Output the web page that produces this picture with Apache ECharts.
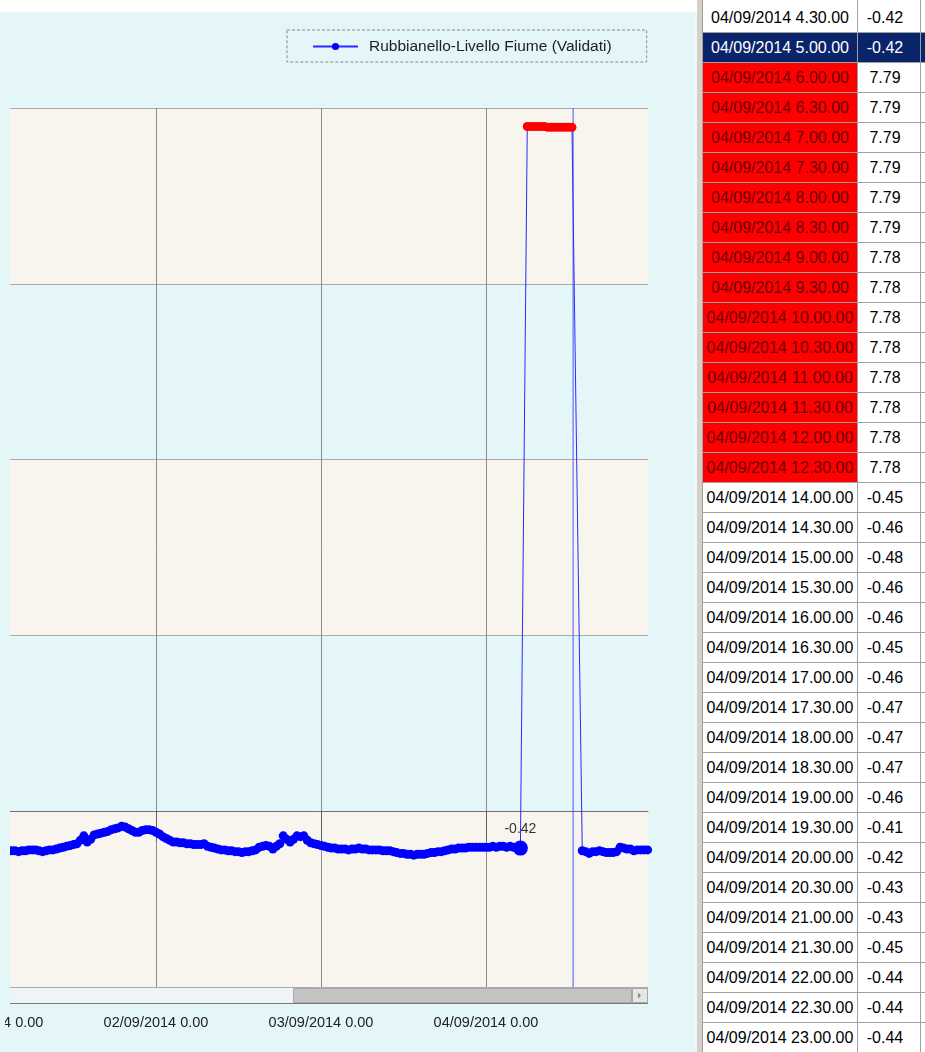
<!DOCTYPE html>
<html>
<head>
<meta charset="utf-8">
<script src="https://cdn.jsdelivr.net/npm/echarts@6/dist/echarts.min.js"></script>
<style>
  html, body { margin: 0; padding: 0; width: 925px; height: 1052px; overflow: hidden; background: #fff; }
  #panel { position: absolute; left: 0; top: 12px; width: 695px; height: 1040px; background: #e4f6f7; border-right: 2px solid #f2f6f6; }
  #chart { position: absolute; left: -80px; top: 0; width: 777px; height: 1052px; }
  #grid { position: absolute; left: 697px; top: 0; width: 228px; height: 1052px; background: #fff; overflow: hidden;
          font-family: "Liberation Sans", Arial, sans-serif; font-size: 16px; color: #000; }
  #grid .strip { position: absolute; left: 0; top: 0; width: 5px; height: 1052px; background: #d4d0c8; border-right: 1px solid #a0a0a0; }
  #grid .vline { position: absolute; top: 0; width: 1px; height: 1052px; background: #a0a0a0; }
  #grid .row { position: absolute; left: 6px; width: 222px; height: 29px; border-bottom: 1px solid #a0a0a0; }
  #grid .row div { position: absolute; top: 0; height: 29px; line-height: 29px; white-space: nowrap; }
  #grid .c1 { left: 0; width: 154px; text-align: center; border-right: 1px solid #a0a0a0; }
  #grid .c2 { left: 155px; width: 54px; padding-right: 8px; text-align: center; border-right: 1px solid #a0a0a0; }
  #grid .c3 { left: 218px; width: 4px; }
  #grid .sel .c1, #grid .sel .c2, #grid .sel .c3 { background: #0a246a; color: #fff; }
  #grid .bad .c1 { background: #ff0000; color: #6b0000; }
</style>
</head>
<body>
<div id="panel"></div>
<div id="chart"></div>
<div id="grid"><div class="strip"></div><div class="vline" style="left:160px"></div><div class="vline" style="left:223px"></div></div>

<script>
// livello misurato ogni 30 minuti, da 01/09/2014 2.30 a 04/09/2014 4.00
const START_HOUR = 2.5;
const STEP_HOUR = 0.5;
const levelBefore = [
  -0.45, -0.45, -0.45, -0.46, -0.45, -0.45, -0.44, -0.44, -0.44, -0.45,
  -0.46, -0.45, -0.44, -0.44, -0.43, -0.42, -0.41, -0.40, -0.39, -0.38,
  -0.37, -0.33, -0.28, -0.35, -0.32, -0.27, -0.26, -0.25, -0.24, -0.23,
  -0.21, -0.20, -0.19, -0.17, -0.18, -0.20, -0.22, -0.24, -0.24, -0.22,
  -0.21, -0.21, -0.22, -0.24, -0.26, -0.29, -0.31, -0.33, -0.35, -0.35,
  -0.36, -0.36, -0.37, -0.37, -0.38, -0.38, -0.38, -0.37, -0.40, -0.41,
  -0.42, -0.43, -0.44, -0.44, -0.45, -0.45, -0.46, -0.46, -0.47, -0.46,
  -0.46, -0.45, -0.44, -0.41, -0.40, -0.39, -0.40, -0.43, -0.40, -0.37,
  -0.28, -0.32, -0.35, -0.32, -0.28, -0.29, -0.28, -0.33, -0.36, -0.37,
  -0.38, -0.39, -0.40, -0.41, -0.42, -0.42, -0.43, -0.43, -0.43, -0.44,
  -0.43, -0.43, -0.42, -0.43, -0.43, -0.44, -0.44, -0.44, -0.44, -0.45,
  -0.45, -0.45, -0.46, -0.47, -0.48, -0.48, -0.49, -0.49, -0.50, -0.49,
  -0.49, -0.49, -0.48, -0.47, -0.47, -0.46, -0.46, -0.45, -0.44, -0.43,
  -0.43, -0.42, -0.42, -0.42, -0.41, -0.41, -0.41, -0.41, -0.41, -0.41,
  -0.41, -0.40, -0.41, -0.40, -0.40, -0.41, -0.40, -0.41
];

// righe della tabella (anche punti del grafico)
const rowTimes = [
  "04/09/2014 4.30.00", "04/09/2014 5.00.00", "04/09/2014 6.00.00", "04/09/2014 6.30.00",
  "04/09/2014 7.00.00", "04/09/2014 7.30.00", "04/09/2014 8.00.00", "04/09/2014 8.30.00",
  "04/09/2014 9.00.00", "04/09/2014 9.30.00", "04/09/2014 10.00.00", "04/09/2014 10.30.00",
  "04/09/2014 11.00.00", "04/09/2014 11.30.00", "04/09/2014 12.00.00", "04/09/2014 12.30.00",
  "04/09/2014 14.00.00", "04/09/2014 14.30.00", "04/09/2014 15.00.00", "04/09/2014 15.30.00",
  "04/09/2014 16.00.00", "04/09/2014 16.30.00", "04/09/2014 17.00.00", "04/09/2014 17.30.00",
  "04/09/2014 18.00.00", "04/09/2014 18.30.00", "04/09/2014 19.00.00", "04/09/2014 19.30.00",
  "04/09/2014 20.00.00", "04/09/2014 20.30.00", "04/09/2014 21.00.00", "04/09/2014 21.30.00",
  "04/09/2014 22.00.00", "04/09/2014 22.30.00", "04/09/2014 23.00.00"
];
const rowValues = [
  -0.42, -0.42, 7.79, 7.79, 7.79, 7.79, 7.79, 7.79, 7.78, 7.78, 7.78, 7.78, 7.78, 7.78, 7.78, 7.78,
  -0.45, -0.46, -0.48, -0.46, -0.46, -0.45, -0.46, -0.47, -0.47, -0.47, -0.46, -0.41,
  -0.42, -0.43, -0.43, -0.45, -0.44, -0.44, -0.44
];
const rowState = [
  "", "sel", "bad", "bad", "bad", "bad", "bad", "bad", "bad", "bad", "bad", "bad", "bad", "bad", "bad", "bad",
  "", "", "", "", "", "", "", "", "", "", "", "", "", "", "", "", "", "", ""
];
const tailTime = "04/09/2014 23.30.00";
const tailValue = -0.44;
const cursorTime = "04/09/2014 12.40.00";

const dayLabels = ["01/09/2014 0.00", "02/09/2014 0.00", "03/09/2014 0.00", "04/09/2014 0.00"];
const yTicks = [-2, 0, 2, 4, 6, 8];
const X_MAX = 95.56; // fine finestra visibile (ore dal 01/09 0.00)

const seriesName = "Rubbianello-Livello Fiume (Validati)";
const PANEL = "#e4f6f7";
const CURSOR = "#5050ff";

// "gg/09/2014 h.mm.ss" -> ore dal 01/09/2014 0.00
function toHours(s) {
  const parts = s.split(" ");
  const day = parseInt(parts[0].split("/")[0], 10);
  const hm = parts[1].split(".");
  return (day - 1) * 24 + parseInt(hm[0], 10) + parseInt(hm[1], 10) / 60;
}

// tabella
const tbl = document.getElementById("grid");
rowTimes.forEach((t, k) => {
  const row = document.createElement("div");
  row.className = "row " + rowState[k];
  row.style.top = (3 + 30 * k) + "px";
  row.innerHTML = '<div class="c1">' + t + '</div><div class="c2">' + rowValues[k].toFixed(2) + '</div><div class="c3"></div>';
  tbl.appendChild(row);
});

// dati serie
const seriesData = [];
levelBefore.forEach((v, i) => seriesData.push([START_HOUR + i * STEP_HOUR, v]));
rowTimes.forEach((t, i) => {
  const item = { value: [toHours(t), rowValues[i]] };
  if (rowState[i] === "bad") {
    item.itemStyle = { color: "#ff0000" };
  }
  if (rowState[i] === "sel") {
    item.symbolSize = 15;
    item.label = {
      show: true,
      position: "top",
      distance: 4,
      formatter: () => rowValues[i].toFixed(2),
      color: "#333",
      fontSize: 14,
      fontFamily: "Liberation Sans"
    };
  }
  seriesData.push(item);
});
seriesData.push([toHours(tailTime), tailValue]);

// cursore verticale su tutta l'altezza
const cursorData = [[toHours(cursorTime), yTicks[0]], [toHours(cursorTime), yTicks[yTicks.length - 1]]];

const chart = echarts.init(document.getElementById("chart"), null, { renderer: "canvas" });

const option = {
  animation: false,
  backgroundColor: "transparent",
  textStyle: { fontFamily: "Liberation Sans" },
  legend: {
    data: [seriesName],
    left: 367,
    top: 30,
    orient: "horizontal",
    itemWidth: 45,
    itemHeight: 9,
    padding: [8, 35, 7, 25],
    borderColor: "#8a8a8a",
    borderWidth: 1,
    borderType: [3, 2],
    textStyle: { color: "#222", fontSize: 15.5, lineHeight: 17, padding: [0, 0, 0, 6] }
  },
  grid: {
    left: 71,
    right: 49,
    top: 108,
    bottom: 65,
    containLabel: false,
    outerBoundsMode: "none"
  },
  xAxis: {
    type: "value",
    min: 0,
    max: X_MAX,
    interval: 24,
    axisLine: { show: true, lineStyle: { color: "#707070", width: 1 } },
    axisTick: { show: true, length: 30, lineStyle: { color: "#606060" } },
    axisLabel: {
      show: true,
      margin: 28,
      color: "#222",
      fontSize: 14.5,
      fontFamily: "Liberation Sans",
      showMaxLabel: false,
      formatter: (v) => dayLabels[Math.round(v / 24)] || ""
    },
    splitLine: { show: true, showMinLine: false, showMaxLine: false, lineStyle: { color: "#8c8c8c", width: 1 } }
  },
  yAxis: {
    type: "value",
    min: yTicks[0],
    max: yTicks[yTicks.length - 1],
    interval: 2,
    axisLine: { show: false },
    axisTick: { show: false },
    axisLabel: { show: false },
    splitLine: { show: true, lineStyle: { color: "#aaaaaa", width: 1 } },
    splitArea: { show: true, areaStyle: { color: ["#f7f5ee", PANEL] } }
  },
  series: [
    {
      name: "cursore",
      type: "line",
      data: cursorData,
      symbol: "none",
      z: 1,
      silent: true,
      lineStyle: { color: CURSOR, width: 1 },
      emphasis: { disabled: true }
    },
    {
      name: seriesName,
      type: "line",
      data: seriesData,
      symbol: "circle",
      symbolSize: 9,
      showSymbol: true,
      z: 3,
      color: "#0000ff",
      itemStyle: { color: "#0000ff" },
      lineStyle: { color: "#2a2aff", width: 1 },
      emphasis: { disabled: true }
    }
  ],
  graphic: [
    // parte del piano fuori dalla finestra visibile
    { type: "rect", z: 100, shape: { x: 0, y: 100, width: 90, height: 903 }, style: { fill: PANEL } },
    { type: "rect", z: 100, shape: { x: 0, y: 1004, width: 85, height: 48 }, style: { fill: PANEL } },
    // barra di scorrimento
    { type: "rect", z: -1, shape: { x: 90, y: 988, width: 638, height: 15 }, style: { fill: "#edf5f7" } },
    { type: "line", z: -1, shape: { x1: 90, y1: 1003.5, x2: 728, y2: 1003.5 }, style: { stroke: "#7a7a7a", lineWidth: 1 } },
    { type: "rect", z: -1, shape: { x: 373.5, y: 988.5, width: 338, height: 14 }, style: { fill: "#c4c4c4", stroke: "#a8a8a8", lineWidth: 1 } },
    { type: "rect", z: -1, shape: { x: 712.5, y: 988.5, width: 15, height: 14 }, style: { fill: "#e6e6e6", stroke: "#a8a8a8", lineWidth: 1 } },
    { type: "polygon", z: -1, shape: { points: [[718, 992.5], [718, 998.5], [721, 995.5]] }, style: { fill: "#8a8a8a" } }
  ]
};

chart.setOption(option);
</script>
</body>
</html>
